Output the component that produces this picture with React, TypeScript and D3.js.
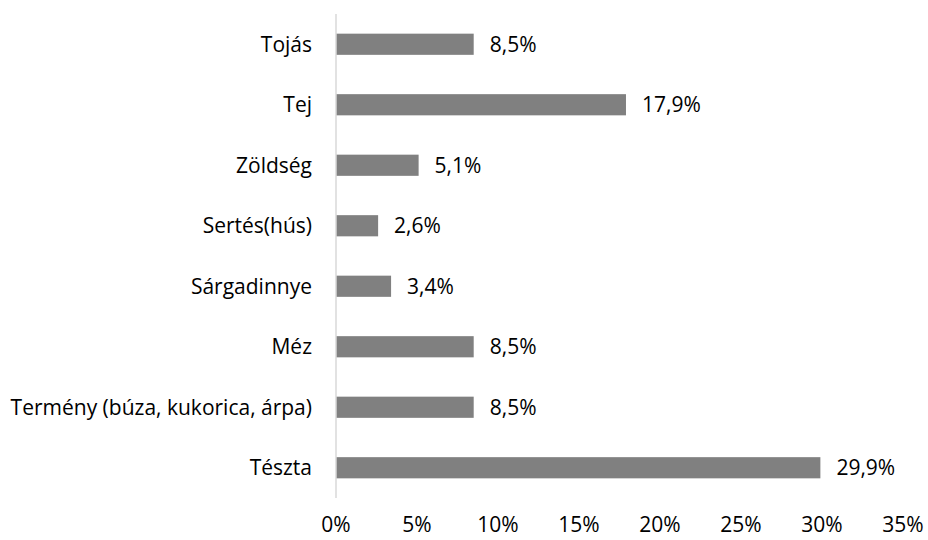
import React, { useEffect, useRef } from "react";
import * as d3 from "d3";

const categories = [
  "Tojás",
  "Tej",
  "Zöldség",
  "Sertés(hús)",
  "Sárgadinnye",
  "Méz",
  "Termény (búza, kukorica, árpa)",
  "Tészta",
];
const values = [8.5, 17.9, 5.1, 2.6, 3.4, 8.5, 8.5, 29.9];
const ticks = [0, 5, 10, 15, 20, 25, 30, 35];

const width = 928;
const height = 540;
const font = "'Open Sans', sans-serif";
const fontSize = 21;

export default function App() {
  const svgRef = useRef<SVGSVGElement | null>(null);

  useEffect(() => {
    if (!svgRef.current) return;
    const svg = d3.select(svgRef.current);
    svg.selectAll("*").remove();

    const x = d3.scaleLinear().domain([0, 35]).range([336, 903]);
    const y = d3
      .scaleBand<string>()
      .domain(categories)
      .range([14, 498])
      .paddingInner(0.65)
      .paddingOuter(0.325);

    // bars
    svg
      .selectAll(".bar")
      .data(values)
      .enter()
      .append("rect")
      .attr("class", "bar")
      .attr("x", x(0))
      .attr("y", (_, i) => y(categories[i])!)
      .attr("width", (d) => x(d) - x(0))
      .attr("height", y.bandwidth())
      .attr("fill", "#808080");

    // axis line
    svg
      .append("line")
      .attr("x1", x(0))
      .attr("x2", x(0))
      .attr("y1", 14)
      .attr("y2", 498)
      .attr("stroke", "#d9d9d9")
      .attr("stroke-width", 1.5);

    // value labels
    svg
      .selectAll(".val")
      .data(values)
      .enter()
      .append("text")
      .attr("class", "val")
      .attr("x", (d) => x(d) + 16)
      .attr("y", (_, i) => y(categories[i])! + y.bandwidth() / 2)
      .attr("dy", "0.35em")
      .attr("font-family", font)
      .attr("font-size", fontSize)
      .attr("fill", "#000")
      .text((d) => d.toFixed(1).replace(".", ",") + "%");

    // category labels
    svg
      .selectAll(".cat")
      .data(categories)
      .enter()
      .append("text")
      .attr("class", "cat")
      .attr("x", 312)
      .attr("y", (d) => y(d)! + y.bandwidth() / 2)
      .attr("dy", "0.35em")
      .attr("text-anchor", "end")
      .attr("font-family", font)
      .attr("font-size", fontSize)
      .attr("fill", "#000")
      .text((d) => d);

    // x tick labels
    svg
      .selectAll(".tick")
      .data(ticks)
      .enter()
      .append("text")
      .attr("class", "tick")
      .attr("x", (d) => x(d))
      .attr("y", 532)
      .attr("text-anchor", "middle")
      .attr("font-family", font)
      .attr("font-size", fontSize)
      .attr("fill", "#000")
      .text((d) => `${d}%`);
  }, []);

  return (
    <svg
      ref={svgRef}
      width={width}
      height={height}
      style={{ position: "absolute", left: 0, top: 0, background: "#fff" }}
    />
  );
}
